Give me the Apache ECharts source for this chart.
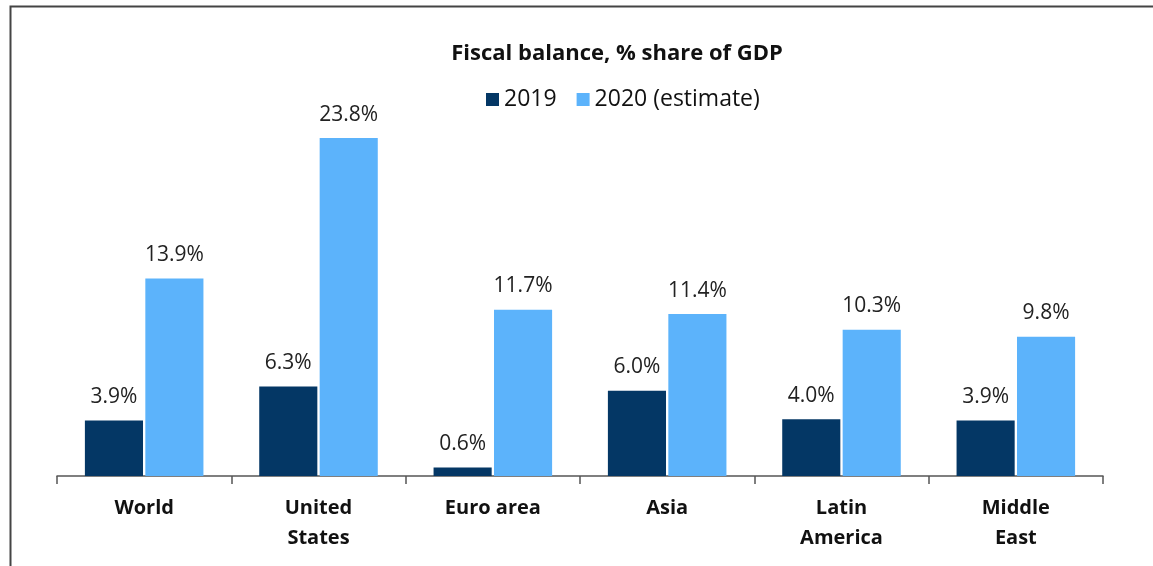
<!DOCTYPE html>
<html>
<head>
<meta charset="utf-8">
<script src="https://cdn.jsdelivr.net/npm/echarts@6/dist/echarts.min.js"></script>
<style>
  html, body { margin: 0; padding: 0; background: #fff; }
  #chart { width: 1153px; height: 566px; }
</style>
</head>
<body>
<div id="chart"></div>
<script>
// data
var regions = ['World', 'United\nStates', 'Euro area', 'Asia', 'Latin\nAmerica', 'Middle\nEast'];
var values2019 = [3.9, 6.3, 0.6, 6.0, 4.0, 3.9];
var values2020 = [13.9, 23.8, 11.7, 11.4, 10.3, 9.8];

var font = '"Open Sans", "Noto Sans", sans-serif';
var labelFmt = function (p) { return p.value.toFixed(1) + '%'; };

var myChart = echarts.init(document.getElementById('chart'));
myChart.setOption({
    animation: false,
    graphic: [{
        type: 'rect',
        left: 8, top: 4,
        shape: { width: 1300, height: 700 },
        style: { fill: 'none', stroke: '#444', lineWidth: 2 }
    }],
    title: {
        text: 'Fiscal balance, % share of GDP',
        left: 612, top: 38, textAlign: 'center',
        textStyle: { fontFamily: font, fontSize: 22, fontWeight: 'bold', color: '#111' }
    },
    legend: {
        top: 83, left: 481,
        itemWidth: 13, itemHeight: 13, itemGap: 20,
        icon: 'rect',
        textStyle: { fontFamily: font, fontSize: 23, color: '#111' },
        data: ['2019', '2020 (estimate)']
    },
    grid: { left: 57, right: 50, top: 121, bottom: 90 },
    xAxis: {
        type: 'category',
        data: regions,
        axisLine: { lineStyle: { color: '#555', width: 1.5 } },
        axisTick: { show: true, length: 8, lineStyle: { color: '#555', width: 1.5 } },
        axisLabel: {
            margin: 17, fontFamily: font, fontSize: 20, fontWeight: 'bold',
            color: '#111', lineHeight: 30, interval: 0
        }
    },
    yAxis: { type: 'value', min: 0, max: 25, show: false, splitLine: { show: false } },
    series: [{
        name: '2019', type: 'bar', data: values2019,
        barGap: '4%', barCategoryGap: '32%',
        itemStyle: { color: '#043765' },
        label: { show: true, position: 'top', distance: 13, formatter: labelFmt,
                 fontFamily: font, fontSize: 21, color: '#222' }
    }, {
        name: '2020 (estimate)', type: 'bar', data: values2020,
        itemStyle: { color: '#5cb3fb' },
        label: { show: true, position: 'top', distance: 13, formatter: labelFmt,
                 fontFamily: font, fontSize: 21, color: '#222' }
    }]
});
</script>
</body>
</html>
